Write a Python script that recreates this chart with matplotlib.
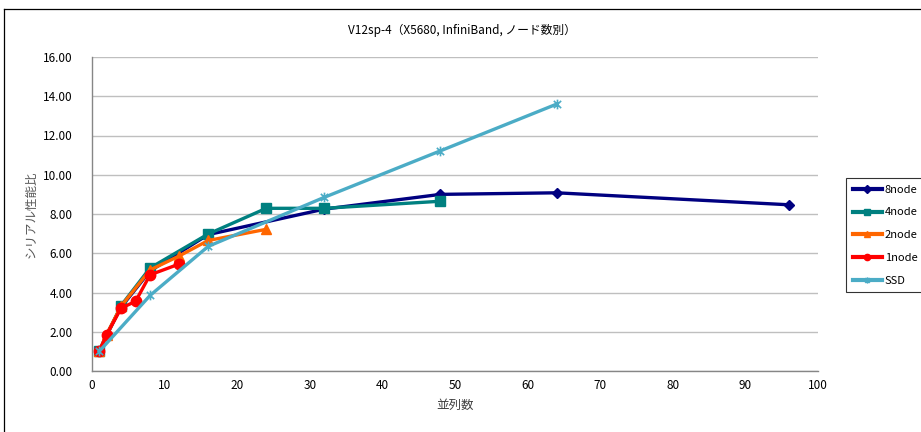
import matplotlib
matplotlib.use("Agg")
import matplotlib.pyplot as plt
import matplotlib.path as mpath
from matplotlib.lines import Line2D

plt.rcParams['font.family'] = ['Noto Sans CJK JP', 'DejaVu Sans']

# Parallel runs and speed-up relative to serial execution
x_8node = [1, 2, 4, 8, 16, 32, 48, 64, 96]
y_8node = [1.00, 1.85, 3.25, 5.10, 6.95, 8.25, 9.00, 9.08, 8.47]

x_4node = [1, 4, 8, 16, 24, 32, 48]
y_4node = [1.00, 3.33, 5.25, 6.98, 8.29, 8.29, 8.65]

x_2node = [1, 2, 4, 8, 12, 16, 24]
y_2node = [1.00, 1.85, 3.30, 5.15, 5.86, 6.65, 7.22]

x_1node = [1, 2, 4, 6, 8, 12]
y_1node = [1.00, 1.83, 3.20, 3.55, 4.90, 5.45]

x_ssd = [1, 8, 16, 32, 48, 64]
y_ssd = [1.00, 3.85, 6.35, 8.85, 11.22, 13.60]

series_names = ['8node', '4node', '2node', '1node', 'SSD']

title = 'V12sp-4（X5680, InfiniBand, ノード数別）'
xlabel = '並列数'
ylabel = 'シリアル性能比'

# Asterisk-style marker: vertical stroke plus two diagonals
star = mpath.Path(
    [(0, -1), (0, 1), (-0.75, -0.75), (0.75, 0.75), (-0.75, 0.75), (0.75, -0.75)],
    [mpath.Path.MOVETO, mpath.Path.LINETO] * 3,
)

fig = plt.figure(figsize=(9.21, 4.32), dpi=100)
ax = fig.add_axes([92 / 921, 61 / 432, 726 / 921, 314 / 432])

styles = [
    dict(color='#000080', marker='D', ms=5.5),
    dict(color='#008080', marker='s', ms=7),
    dict(color='#FF6600', marker='^', ms=7),
    dict(color='#FF0000', marker='o', ms=7.5),
    dict(color='#4BACC6', marker=star, ms=7, mew=1.2),
]
data = [(x_8node, y_8node), (x_4node, y_4node), (x_2node, y_2node),
        (x_1node, y_1node), (x_ssd, y_ssd)]

for (xs, ys), name, st in zip(data, series_names, styles):
    ax.plot(xs, ys, label=name, lw=2.4, color=st['color'], marker=st['marker'],
            ms=st['ms'], mec=st['color'], mfc=st['color'], mew=st.get('mew', 1.0))

ax.set_xlim(0, 100)
ax.set_ylim(0, 16)
ax.set_xticks(range(0, 101, 10))
ax.set_yticks(range(0, 17, 2))
ax.set_yticklabels([f'{v:.2f}' for v in range(0, 17, 2)])
ax.tick_params(length=0, labelsize=8.5, pad=6, colors='#000000')
ax.tick_params(axis='y', pad=14)

ax.grid(axis='y', color='#BFBFBF', lw=1.0)
ax.set_axisbelow(True)
for side in ('top', 'right'):
    ax.spines[side].set_visible(False)
for side in ('left', 'bottom'):
    ax.spines[side].set_color('#868686')
    ax.spines[side].set_linewidth(1.0)

ax.set_xlabel(xlabel, fontsize=9, labelpad=5, color='#404040')
ax.set_ylabel(ylabel, fontsize=9, labelpad=4, color='#595959')
fig.text(462 / 921, 1 - 30 / 432, title, ha='center', va='center', fontsize=8.5)

leg = ax.legend(loc='upper left', bbox_to_anchor=(846 / 921, 1 - 178 / 432),
                bbox_transform=fig.transFigure, fontsize=8, frameon=True,
                fancybox=False, edgecolor='#000000', handlelength=2.6,
                handletextpad=0.3, labelspacing=1.15, borderpad=0.6,
                borderaxespad=0)
leg.get_frame().set_linewidth(0.8)
for h in leg.legend_handles:
    h.set_markersize(4.5)
    h.set_linewidth(3.0)

# Outer chart frame (left and top edges)
fig.add_artist(Line2D([4 / 921, 4 / 921], [0, 1 - 9 / 432], transform=fig.transFigure,
                      color='#000000', lw=0.9))
fig.add_artist(Line2D([4 / 921, 1], [1 - 9 / 432, 1 - 9 / 432], transform=fig.transFigure,
                      color='#000000', lw=0.9))

fig.savefig('out.png', dpi=100)
